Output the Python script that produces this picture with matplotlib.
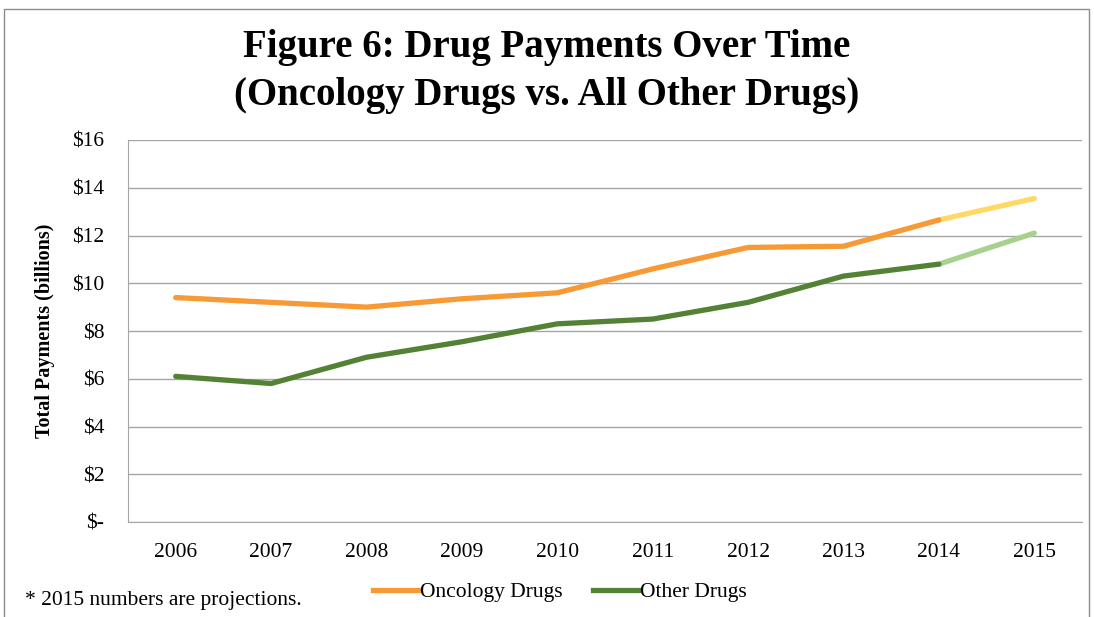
import matplotlib.pyplot as plt
from matplotlib.patches import Rectangle
from matplotlib.lines import Line2D

plt.rcParams['font.family'] = ['Liberation Serif', 'DejaVu Serif']

years = ['2006', '2007', '2008', '2009', '2010', '2011', '2012', '2013', '2014', '2015']
oncology = [9.4, 9.2, 9.0, 9.35, 9.6, 10.6, 11.5, 11.55, 12.65, 13.55]
other = [6.1, 5.8, 6.9, 7.55, 8.3, 8.5, 9.2, 10.3, 10.8, 12.1]
yticks = [0, 2, 4, 6, 8, 10, 12, 14, 16]

onc_col, onc_proj = '#F79A36', '#FFD966'
oth_col, oth_proj = '#548235', '#A9D18E'
fs = 15.5

fig = plt.figure(figsize=(10.94, 6.17), dpi=100)
ax = fig.add_axes([128 / 1094, 1 - 522 / 617, (1082 - 128) / 1094, (522 - 140) / 617])

x = list(range(len(years)))
# actual values up to 2014, projection for 2015 in a lighter tint
ax.plot(x[:-1], oncology[:-1], color=onc_col, lw=3.8, solid_capstyle='round', zorder=3)
ax.plot(x[-2:], oncology[-2:], color=onc_proj, lw=3.8, solid_capstyle='round', zorder=2)
ax.plot(x[:-1], other[:-1], color=oth_col, lw=3.8, solid_capstyle='round', zorder=3)
ax.plot(x[-2:], other[-2:], color=oth_proj, lw=3.8, solid_capstyle='round', zorder=2)

ax.set_xlim(-0.5, len(years) - 0.5)
ax.set_ylim(0, 16)
ax.set_xticks(x)
ax.set_xticklabels(years, fontsize=fs)
ax.set_yticks(yticks)
ax.set_yticklabels(['$-' if v == 0 else '$%d' % v for v in yticks], fontsize=fs)
ax.tick_params(axis='x', length=0, pad=15)
ax.tick_params(axis='y', length=0, pad=17)
ax.grid(axis='y', color='#A6A6A6', lw=1)
ax.set_axisbelow(True)
for s in ['top', 'right']:
    ax.spines[s].set_visible(False)
for s in ['left', 'bottom']:
    ax.spines[s].set_color('#A6A6A6')

ax.set_ylabel('Total Payments (billions)', fontsize=14.5, fontweight='bold', labelpad=12)

fig.text(0.5, 1 - 47 / 617, 'Figure 6: Drug Payments Over Time', ha='center', va='center',
         fontsize=28, fontweight='bold')
fig.text(0.5, 1 - 95 / 617, '(Oncology Drugs vs. All Other Drugs)', ha='center', va='center',
         fontsize=28, fontweight='bold')

handles = [Line2D([], [], color=onc_col, lw=3.8), Line2D([], [], color=oth_col, lw=3.8)]
fig.legend(handles, ['Oncology Drugs', 'Other Drugs'], loc='center', ncol=2,
           bbox_to_anchor=(560 / 1094, 1 - 592 / 617), frameon=False, fontsize=fs,
           handlelength=2.1, handletextpad=0.1, columnspacing=1.4)

fig.text(25 / 1094, 1 - 601 / 617, '* 2015 numbers are projections.', ha='left', va='center',
         fontsize=fs)

fig.patches.append(Rectangle((4 / 1094, -0.01), 1085 / 1094, 1 - 9 / 617 + 0.01,
                             transform=fig.transFigure, fill=False, ec='#8C8C8C', lw=1))

fig.savefig('out.png', dpi=100)
